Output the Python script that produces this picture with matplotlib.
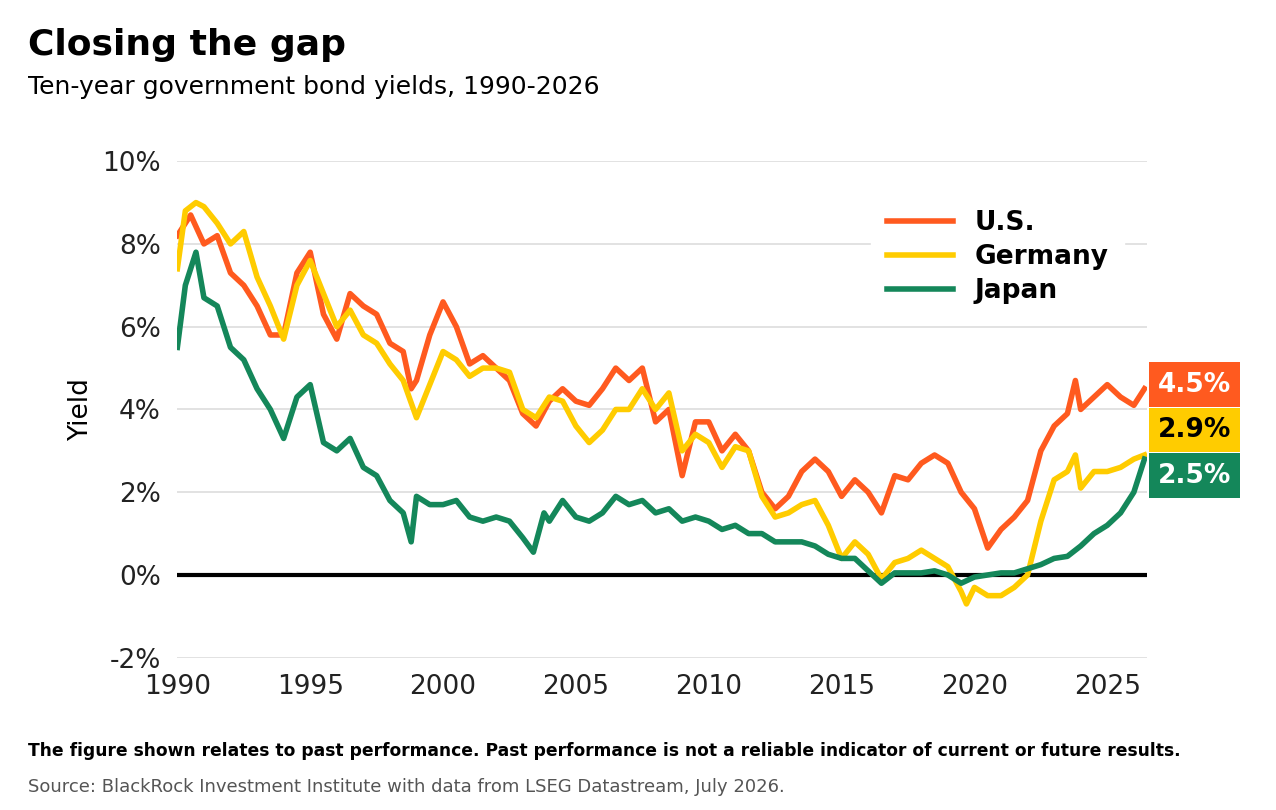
import numpy as np
import matplotlib
matplotlib.use("Agg")
import matplotlib.pyplot as plt

us_x = [1990.0, 1990.5, 1991.0, 1991.5, 1992.0, 1992.5, 1993.0, 1993.5, 1994.0, 1994.5, 1995.0, 1995.5,
        1996.0, 1996.5, 1997.0, 1997.5, 1998.0, 1998.5, 1998.8, 1999.0, 1999.5, 2000.0, 2000.5, 2001.0,
        2001.5, 2002.0, 2002.5, 2003.0, 2003.5, 2004.0, 2004.5, 2005.0, 2005.5, 2006.0, 2006.5, 2007.0,
        2007.5, 2008.0, 2008.5, 2009.0, 2009.5, 2010.0, 2010.5, 2011.0, 2011.5, 2012.0, 2012.5, 2013.0,
        2013.5, 2014.0, 2014.5, 2015.0, 2015.5, 2016.0, 2016.5, 2017.0, 2017.5, 2018.0, 2018.5, 2019.0,
        2019.5, 2020.0, 2020.5, 2021.0, 2021.5, 2022.0, 2022.5, 2023.0, 2023.5, 2023.8, 2024.0, 2024.5,
        2025.0, 2025.5, 2026.0, 2026.4]
us_y = [8.2, 8.7, 8.0, 8.2, 7.3, 7.0, 6.5, 5.8, 5.8, 7.3, 7.8, 6.3,
        5.7, 6.8, 6.5, 6.3, 5.6, 5.4, 4.5, 4.7, 5.8, 6.6, 6.0, 5.1,
        5.3, 5.0, 4.7, 3.9, 3.6, 4.2, 4.5, 4.2, 4.1, 4.5, 5.0, 4.7,
        5.0, 3.7, 4.0, 2.4, 3.7, 3.7, 3.0, 3.4, 3.0, 2.0, 1.6, 1.9,
        2.5, 2.8, 2.5, 1.9, 2.3, 2.0, 1.5, 2.4, 2.3, 2.7, 2.9, 2.7,
        2.0, 1.6, 0.65, 1.1, 1.4, 1.8, 3.0, 3.6, 3.9, 4.7, 4.0, 4.3,
        4.6, 4.3, 4.1, 4.5]

de_x = [1990.0, 1990.3, 1990.7, 1991.0, 1991.5, 1992.0, 1992.5, 1993.0, 1993.5, 1994.0, 1994.5, 1995.0,
        1995.5, 1996.0, 1996.5, 1997.0, 1997.5, 1998.0, 1998.5, 1999.0, 1999.5, 2000.0, 2000.5, 2001.0,
        2001.5, 2002.0, 2002.5, 2003.0, 2003.5, 2004.0, 2004.5, 2005.0, 2005.5, 2006.0, 2006.5, 2007.0,
        2007.5, 2008.0, 2008.5, 2009.0, 2009.5, 2010.0, 2010.5, 2011.0, 2011.5, 2012.0, 2012.5, 2013.0,
        2013.5, 2014.0, 2014.5, 2015.0, 2015.5, 2016.0, 2016.5, 2017.0, 2017.5, 2018.0, 2018.5, 2019.0,
        2019.5, 2019.7, 2020.0, 2020.5, 2021.0, 2021.5, 2022.0, 2022.5, 2023.0, 2023.5, 2023.8, 2024.0,
        2024.5, 2025.0, 2025.5, 2026.0, 2026.4]
de_y = [7.4, 8.8, 9.0, 8.9, 8.5, 8.0, 8.3, 7.2, 6.5, 5.7, 7.0, 7.6,
        6.8, 6.0, 6.4, 5.8, 5.6, 5.1, 4.7, 3.8, 4.6, 5.4, 5.2, 4.8,
        5.0, 5.0, 4.9, 4.0, 3.8, 4.3, 4.2, 3.6, 3.2, 3.5, 4.0, 4.0,
        4.5, 4.0, 4.4, 3.0, 3.4, 3.2, 2.6, 3.1, 3.0, 1.9, 1.4, 1.5,
        1.7, 1.8, 1.2, 0.4, 0.8, 0.5, -0.1, 0.3, 0.4, 0.6, 0.4, 0.2,
        -0.4, -0.7, -0.3, -0.5, -0.5, -0.3, 0.0, 1.3, 2.3, 2.5, 2.9, 2.1,
        2.5, 2.5, 2.6, 2.8, 2.9]

jp_x = [1990.0, 1990.3, 1990.7, 1991.0, 1991.5, 1992.0, 1992.5, 1993.0, 1993.5, 1994.0, 1994.5, 1995.0,
        1995.5, 1996.0, 1996.5, 1997.0, 1997.5, 1998.0, 1998.5, 1998.8, 1999.0, 1999.5, 2000.0, 2000.5,
        2001.0, 2001.5, 2002.0, 2002.5, 2003.0, 2003.4, 2003.8, 2004.0, 2004.5, 2005.0, 2005.5, 2006.0,
        2006.5, 2007.0, 2007.5, 2008.0, 2008.5, 2009.0, 2009.5, 2010.0, 2010.5, 2011.0, 2011.5, 2012.0,
        2012.5, 2013.0, 2013.5, 2014.0, 2014.5, 2015.0, 2015.5, 2016.0, 2016.5, 2017.0, 2017.5, 2018.0,
        2018.5, 2019.0, 2019.5, 2020.0, 2020.5, 2021.0, 2021.5, 2022.0, 2022.5, 2023.0, 2023.5, 2024.0,
        2024.5, 2025.0, 2025.5, 2026.0, 2026.4]
jp_y = [5.5, 7.0, 7.8, 6.7, 6.5, 5.5, 5.2, 4.5, 4.0, 3.3, 4.3, 4.6,
        3.2, 3.0, 3.3, 2.6, 2.4, 1.8, 1.5, 0.8, 1.9, 1.7, 1.7, 1.8,
        1.4, 1.3, 1.4, 1.3, 0.9, 0.55, 1.5, 1.3, 1.8, 1.4, 1.3, 1.5,
        1.9, 1.7, 1.8, 1.5, 1.6, 1.3, 1.4, 1.3, 1.1, 1.2, 1.0, 1.0,
        0.8, 0.8, 0.8, 0.7, 0.5, 0.4, 0.4, 0.1, -0.2, 0.05, 0.05, 0.05,
        0.1, 0.0, -0.2, -0.05, 0.0, 0.05, 0.05, 0.15, 0.25, 0.4, 0.45, 0.7,
        1.0, 1.2, 1.5, 2.0, 2.8]

end_labels = ["4.5%", "2.9%", "2.5%"]
end_label_y = [4.6, 3.5, 2.4]

c_us = "#FF5A1F"
c_de = "#FFCC00"
c_jp = "#14875A"

fig = plt.figure(figsize=(12.76, 8.1), dpi=100)
ax = fig.add_axes([0.139, 0.188, 0.76, 0.613])

ax.plot(us_x, us_y, color=c_us, lw=4, label="U.S.", zorder=3)
ax.plot(de_x, de_y, color=c_de, lw=4, label="Germany", zorder=4)
ax.plot(jp_x, jp_y, color=c_jp, lw=4, label="Japan", zorder=5)

ax.set_xlim(1990, 2026.5)
ax.set_ylim(-2, 10)
ax.set_yticks(range(-2, 11, 2))
ax.set_yticklabels([f"{v}%" for v in range(-2, 11, 2)])
ax.set_xticks(range(1990, 2026, 5))
ax.grid(axis="y", color="#dddddd", lw=1.2)
ax.axhline(0, color="black", lw=3, zorder=2)
ax.tick_params(length=0, labelsize=19, colors="#222222", pad=12)
for s in ax.spines.values():
    s.set_visible(False)
ax.set_ylabel("Yield", fontsize=19, labelpad=6)

leg = ax.legend(loc="upper right", bbox_to_anchor=(0.99, 0.96), fontsize=19, frameon=True,
                handlelength=2.5, borderpad=0.6, labelspacing=0.3)
leg.get_frame().set_facecolor("white")
leg.get_frame().set_edgecolor("white")
leg.get_frame().set_alpha(1)
for t in leg.get_texts():
    t.set_fontweight("bold")

for lab, yv, c, tc in zip(end_labels, end_label_y, [c_us, c_de, c_jp], ["white", "black", "white"]):
    ax.text(2026.9, yv, lab, color=tc, fontsize=19, fontweight="bold", va="center", ha="left",
            bbox=dict(boxstyle="square,pad=0.35", fc=c, ec="none"), clip_on=False)

fig.text(0.022, 0.945, "Closing the gap", fontsize=26, fontweight="heavy", va="center")
fig.text(0.022, 0.892, "Ten-year government bond yields, 1990-2026", fontsize=18, va="center")
fig.text(0.022, 0.073, "The figure shown relates to past performance. Past performance is not a reliable indicator of current or future results.",
         fontsize=12.3, fontweight="bold", va="center")
fig.text(0.022, 0.028, "Source: BlackRock Investment Institute with data from LSEG Datastream, July 2026.",
         fontsize=13, color="#555555", va="center")

fig.savefig("out.png", dpi=100, facecolor="white")
